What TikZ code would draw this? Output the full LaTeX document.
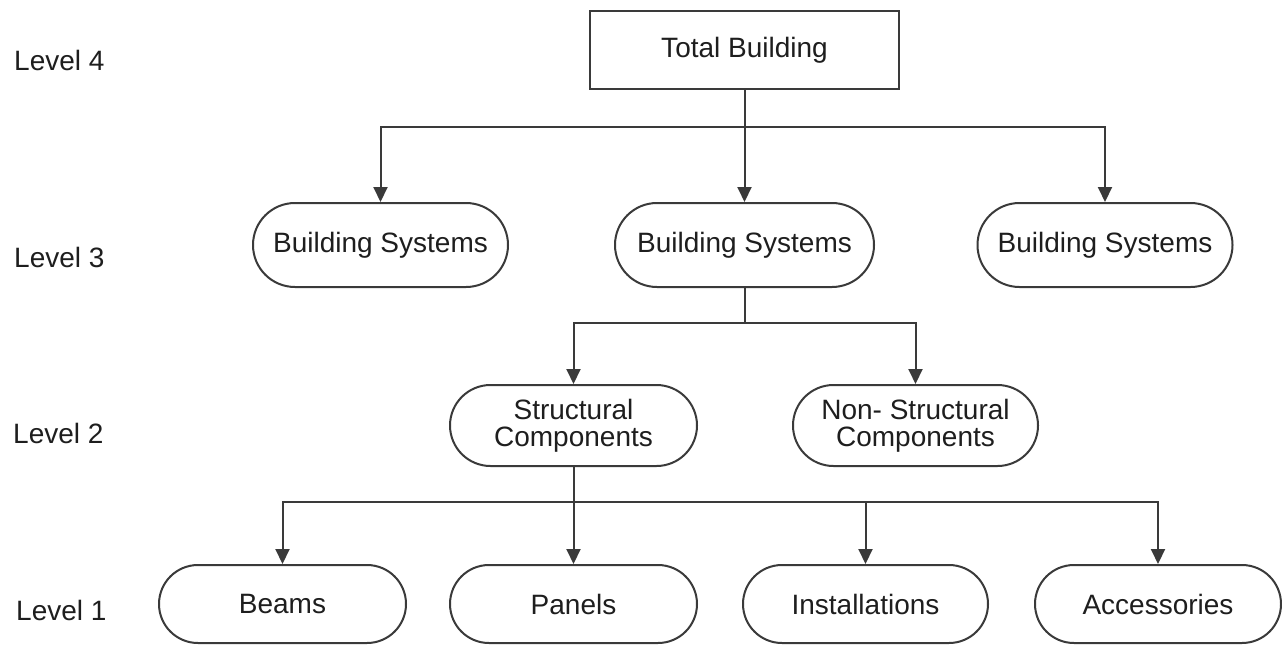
\documentclass[tikz,border=0pt]{standalone}
\usepackage{fontspec}
\setmainfont{Liberation Sans}
\usetikzlibrary{arrows.meta,shapes.misc}
\definecolor{ln}{HTML}{3A3A3A}
\definecolor{tx}{HTML}{1E1E1E}
\begin{document}
\begin{tikzpicture}[x=1pt,y=-1pt,
  every node/.style={font=\fontsize{28}{27}\selectfont, text=tx},
  boxnode/.style={draw=ln, line width=2pt, minimum width=309pt, minimum height=78pt, inner sep=0pt},
  stadium/.style={draw=ln, line width=2pt, rounded rectangle, rounded rectangle arc length=180, inner sep=0pt, align=center},
  lvl/.style={anchor=west, inner sep=0pt},
  conn/.style={draw=ln, line width=2pt},
  arr/.style={conn, -{Triangle[width=14pt,length=15pt]}}]
\useasboundingbox (0,0) rectangle (1282,645);
\fill[white] (0,0) rectangle (1282,645);
% level labels
\node[lvl] (l4) at (14,60) {Level 4};
\node[lvl] (l3) at (14,257) {Level 3};
\node[lvl] (l2) at (13,433) {Level 2};
\node[lvl] (l1) at (16,610) {Level 1};
% level 4
\node[boxnode] (tb) at (744.5,50) {Total Building};
% level 3
\node[stadium, minimum width=255pt, minimum height=84pt] (a3) at (380.5,245) {Building Systems};
\node[stadium, minimum width=259pt, minimum height=84pt] (b3) at (744.5,245) {Building Systems};
\node[stadium, minimum width=255pt, minimum height=84pt] (c3) at (1105,245) {Building Systems};
% level 2
\node[stadium, minimum width=247pt, minimum height=81pt] (s2) at (573.5,425.5) {Structural\\Components};
\node[stadium, minimum width=245pt, minimum height=81pt] (n2) at (915.5,425.5) {Non- Structural\\Components};
% level 1
\node[stadium, minimum width=247pt, minimum height=78pt] (be) at (282.5,604) {Beams};
\node[stadium, minimum width=247pt, minimum height=78pt] (pa) at (573.5,604) {Panels};
\node[stadium, minimum width=245pt, minimum height=78pt] (in) at (865.5,604) {Installations};
\node[stadium, minimum width=246pt, minimum height=78pt] (ac) at (1158,604) {Accessories};
% connectors level 4 -> 3
\coordinate (j4) at (744.5,127);
\draw[conn] (tb.south) -- (j4);
\draw[arr] (j4) -| (a3.north);
\draw[arr] (j4) -| (c3.north);
\draw[arr] (j4) -- (b3.north);
% level 3 -> 2
\coordinate (j3) at (744.5,323);
\draw[conn] (b3.south) -- (j3);
\draw[arr] (j3) -| (s2.north);
\draw[arr] (j3) -| (n2.north);
% level 2 -> 1
\coordinate (j2) at (573.5,502);
\draw[conn] (s2.south) -- (j2);
\draw[arr] (j2) -| (be.north);
\draw[arr] (j2) -- (pa.north);
\draw[arr] (j2) -| (in.north);
\draw[arr] (j2) -| (ac.north);
\end{tikzpicture}
\end{document}
